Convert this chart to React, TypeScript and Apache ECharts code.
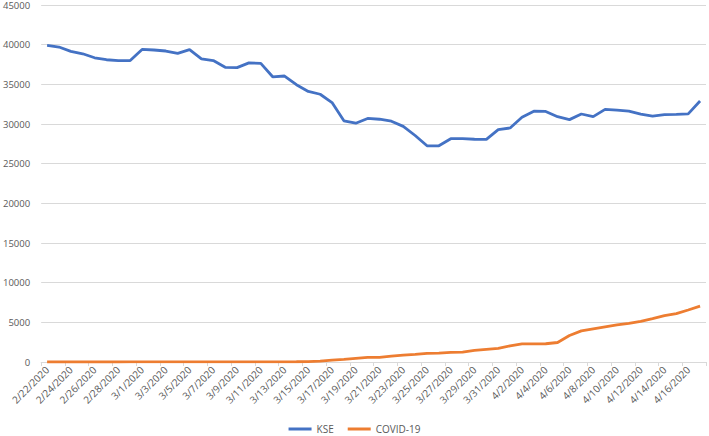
import React, { useEffect, useRef } from "react";
import * as echarts from "echarts";

const dates = [
  "2/22/2020", "2/23/2020", "2/24/2020", "2/25/2020", "2/26/2020", "2/27/2020", "2/28/2020", "2/29/2020",
  "3/1/2020", "3/2/2020", "3/3/2020", "3/4/2020", "3/5/2020", "3/6/2020", "3/7/2020", "3/8/2020",
  "3/9/2020", "3/10/2020", "3/11/2020", "3/12/2020", "3/13/2020", "3/14/2020", "3/15/2020", "3/16/2020",
  "3/17/2020", "3/18/2020", "3/19/2020", "3/20/2020", "3/21/2020", "3/22/2020", "3/23/2020", "3/24/2020",
  "3/25/2020", "3/26/2020", "3/27/2020", "3/28/2020", "3/29/2020", "3/30/2020", "3/31/2020",
  "4/1/2020", "4/2/2020", "4/3/2020", "4/4/2020", "4/5/2020", "4/6/2020", "4/7/2020", "4/8/2020",
  "4/9/2020", "4/10/2020", "4/11/2020", "4/12/2020", "4/13/2020", "4/14/2020", "4/15/2020", "4/16/2020",
  "4/17/2020",
];

const kse = [
  39900, 39700, 39150, 38850, 38350, 38100, 38000, 38000,
  39400, 39330, 39200, 38900, 39380, 38200, 38000, 37150,
  37100, 37700, 37650, 35950, 36050, 34950, 34100, 33750,
  32700, 30400, 30100, 30700, 30600, 30350, 29700, 28550,
  27250, 27250, 28150, 28150, 28080, 28060, 29290,
  29500, 30850, 31620, 31580, 30920, 30550, 31260, 30930,
  31850, 31750, 31620, 31250, 31000, 31180, 31220, 31270,
  32900,
];

const covid = [
  0, 0, 0, 0, 2, 2, 2, 4,
  4, 5, 5, 5, 6, 6, 6, 6,
  16, 16, 19, 20, 28, 31, 53, 120,
  236, 320, 454, 580, 590, 750, 875, 960,
  1084, 1126, 1209, 1250, 1460, 1585, 1710,
  2043, 2293, 2293, 2300, 2460, 3336, 3920, 4170,
  4420, 4670, 4880, 5130, 5460, 5840, 6090, 6550,
  7050,
];

const seriesNames = ["KSE", "COVID-19"];
const yMax = 45000;
const yInterval = 5000;

export default function App() {
  const ref = useRef<HTMLDivElement>(null);
  useEffect(() => {
    document.body.style.margin = "0";
    const chart = echarts.init(ref.current!, null, { renderer: "svg" });
    const labelColor = "#595959";
    const font = "Open Sans";
    chart.setOption({
      animation: false,
      backgroundColor: "#ffffff",
      grid: { left: 41, right: 3, top: 4, bottom: 74, containLabel: false },
      legend: {
        data: seriesNames,
        bottom: 2,
        left: "center",
        padding: 0,
        icon: "rect",
        itemWidth: 23,
        itemHeight: 3,
        itemGap: 14,
        textStyle: { color: labelColor, fontSize: 10, fontFamily: font },
      },
      xAxis: {
        type: "category",
        data: dates,
        boundaryGap: true,
        axisLine: { show: true, lineStyle: { color: "#d9d9d9", width: 1 } },
        axisTick: { show: true, interval: 1, length: 4, lineStyle: { color: "#d9d9d9" } },
        axisLabel: {
          interval: 1,
          rotate: 45,
          color: labelColor,
          fontSize: 10,
          fontFamily: font,
          margin: 6,
        },
        splitLine: { show: false },
      },
      yAxis: {
        type: "value",
        min: 0,
        max: yMax,
        interval: yInterval,
        axisLine: { show: false },
        axisTick: { show: false },
        axisLabel: {
          color: labelColor,
          fontSize: 9.5,
          fontFamily: font,
          margin: 11,
          formatter: (v: number) => String(v),
        },
        splitLine: { show: true, lineStyle: { color: "#d9d9d9", width: 1 } },
      },
      series: [
        {
          name: seriesNames[0],
          type: "line",
          data: kse,
          symbol: "none",
          lineStyle: { color: "#4472C4", width: 2.8 },
          itemStyle: { color: "#4472C4" },
        },
        {
          name: seriesNames[1],
          type: "line",
          data: covid,
          symbol: "none",
          lineStyle: { color: "#ED7D31", width: 2.8 },
          itemStyle: { color: "#ED7D31" },
        },
      ],
    });
    return () => chart.dispose();
  }, []);
  return <div ref={ref} style={{ width: 709, height: 436 }} />;
}
